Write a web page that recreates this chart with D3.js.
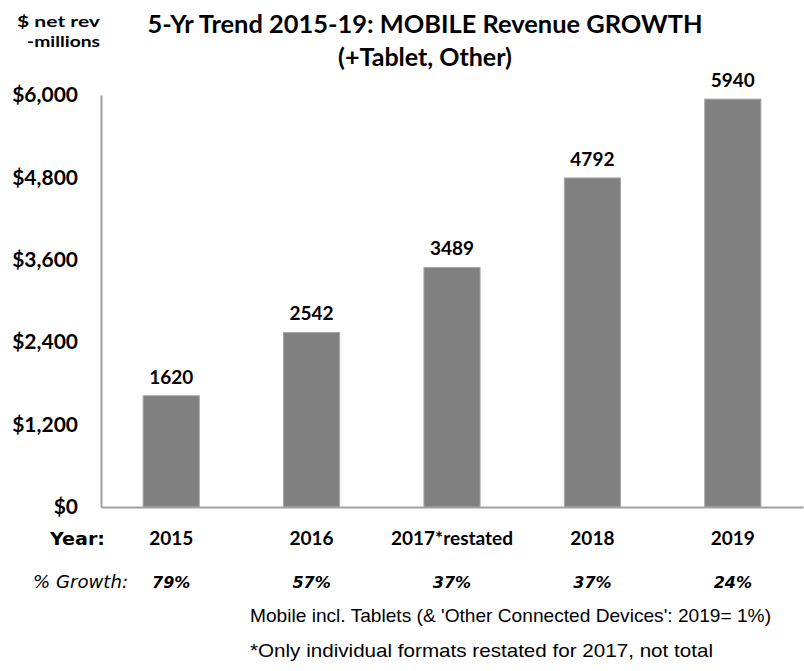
<!DOCTYPE html>
<html>
<head>
<meta charset="utf-8">
<script src="https://cdn.jsdelivr.net/npm/d3@7"></script>
<style>
  body { margin: 0; background: #fff; }
  svg { display: block; }
  text { fill: #000; }
</style>
</head>
<body>
<script>
var years = ["2015", "2016", "2017*restated", "2018", "2019"]
var revenue = [1620, 2542, 3489, 4792, 5940]
var growth = ["79%", "57%", "37%", "37%", "24%"]
var yTicks = [0, 1200, 2400, 3600, 4800, 6000]

var width = 804
var height = 671
var margin = { left: 101, right: 1, top: 95, bottom: 164 }

var svg = d3.select("body").append("svg")
  .attr("width", width)
  .attr("height", height)

var x = d3.scaleBand()
  .domain(years)
  .range([margin.left, width - margin.right])
  .paddingInner(0.6)
  .paddingOuter(0.3)

var y = d3.scaleLinear()
  .domain([0, 6000])
  .range([height - margin.bottom, margin.top])

var baseFont = "Lato, 'Open Sans', sans-serif"
var wideFont = "'DejaVu Sans', Verdana, sans-serif"

// title
svg.append("text")
  .attr("x", 425).attr("y", 33)
  .attr("text-anchor", "middle")
  .attr("textLength", 555)
  .attr("lengthAdjust", "spacingAndGlyphs")
  .style("font-family", baseFont)
  .style("font-weight", "bold")
  .style("font-size", "25px")
  .attr("fill", "#222")
  .text("5-Yr Trend 2015-19: MOBILE Revenue GROWTH")
svg.append("text")
  .attr("x", 425).attr("y", 66)
  .attr("text-anchor", "middle")
  .style("font-family", baseFont)
  .style("font-weight", "bold")
  .style("font-size", "25px")
  .attr("fill", "#222")
  .text("(+Tablet, Other)")

// unit label
svg.append("text")
  .attr("x", 100).attr("y", 27)
  .attr("text-anchor", "end")
  .attr("textLength", 83)
  .attr("lengthAdjust", "spacingAndGlyphs")
  .style("font-family", baseFont)
  .style("font-weight", "bold")
  .style("font-size", "16px")
  .attr("fill", "#222")
  .text("$ net  rev")
svg.append("text")
  .attr("x", 100).attr("y", 47)
  .attr("text-anchor", "end")
  .attr("textLength", 73)
  .attr("lengthAdjust", "spacingAndGlyphs")
  .style("font-family", baseFont)
  .style("font-weight", "bold")
  .style("font-size", "16px")
  .attr("fill", "#222")
  .text("-millions")

// bars
svg.selectAll("rect.bar")
  .data(revenue)
  .enter().append("rect")
  .attr("class", "bar")
  .attr("x", function (d, i) { return x(years[i]) })
  .attr("width", x.bandwidth())
  .attr("y", function (d) { return y(d) })
  .attr("height", function (d) { return y(0) - y(d) })
  .attr("fill", "#808080")
  .attr("stroke", "#a6a6a6")
  .attr("stroke-width", 1)

// value labels
svg.selectAll("text.val")
  .data(revenue)
  .enter().append("text")
  .attr("class", "val")
  .attr("x", function (d, i) { return x(years[i]) + x.bandwidth() / 2 })
  .attr("y", function (d) { return y(d) - 12 })
  .attr("text-anchor", "middle")
  .style("font-family", baseFont)
  .style("font-weight", "bold")
  .style("font-size", "19px")
  .attr("fill", "#222")
  .text(function (d) { return d })

// y axis
var yAxis = d3.axisLeft(y)
  .tickValues(yTicks)
  .tickSize(0)
  .tickPadding(23)
  .tickFormat(function (d) { return "$" + d3.format(",")(d) })

var gy = svg.append("g")
  .attr("transform", "translate(" + margin.left + ",0)")
  .call(yAxis)
gy.select(".domain").attr("stroke", "#a0a0a0").attr("stroke-width", 2)
gy.selectAll("text")
  .style("font-family", baseFont)
  .style("font-weight", "bold")
  .style("font-size", "21px")
  .attr("fill", "#222")

// x axis
var xAxis = d3.axisBottom(x).tickSize(0)
var gx = svg.append("g")
  .attr("transform", "translate(0," + y(0) + ")")
  .call(xAxis)
gx.select(".domain").attr("stroke", "#a0a0a0").attr("stroke-width", 2)
gx.selectAll("text")
  .attr("y", 545 - y(0))
  .attr("dy", 0)
  .style("font-family", baseFont)
  .style("font-weight", "bold")
  .style("font-size", "19px")
  .attr("fill", "#111")

svg.append("text")
  .attr("x", 105).attr("y", 545)
  .attr("text-anchor", "end")
  .attr("textLength", 55)
  .attr("lengthAdjust", "spacingAndGlyphs")
  .style("font-family", wideFont)
  .style("font-weight", "bold")
  .style("font-size", "18px")
  .attr("fill", "#111")
  .text("Year:")

// growth row
svg.append("text")
  .attr("x", 128).attr("y", 588)
  .attr("text-anchor", "end")
  .attr("textLength", 95)
  .attr("lengthAdjust", "spacingAndGlyphs")
  .style("font-family", wideFont)
  .style("font-style", "italic")
  .style("font-size", "17px")
  .attr("fill", "#222")
  .text("% Growth:")

svg.selectAll("text.growth")
  .data(growth)
  .enter().append("text")
  .attr("class", "growth")
  .attr("x", function (d, i) { return x(years[i]) + x.bandwidth() / 2 })
  .attr("y", 588)
  .attr("text-anchor", "middle")
  .style("font-family", wideFont)
  .style("font-style", "italic")
  .style("font-weight", "bold")
  .style("font-size", "16px")
  .attr("fill", "#222")
  .text(function (d) { return d })

// footnotes
svg.append("text")
  .attr("x", 250).attr("y", 622)
  .attr("textLength", 521)
  .attr("lengthAdjust", "spacingAndGlyphs")
  .style("font-family", "'Liberation Sans', Arial, sans-serif")
  .style("font-size", "19px")
  .attr("fill", "#222")
  .text("Mobile incl. Tablets (& 'Other Connected Devices': 2019= 1%)")
svg.append("text")
  .attr("x", 250).attr("y", 657)
  .attr("textLength", 463)
  .attr("lengthAdjust", "spacingAndGlyphs")
  .style("font-family", "'Liberation Sans', Arial, sans-serif")
  .style("font-size", "19px")
  .attr("fill", "#222")
  .text("*Only individual formats restated for 2017, not total")
</script>
</body>
</html>
